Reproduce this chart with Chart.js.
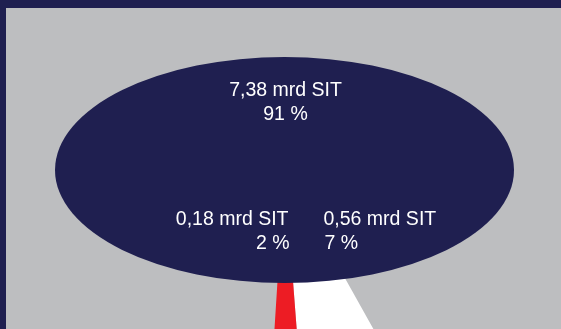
<!DOCTYPE html>
<html>
<head>
<meta charset="utf-8">
<script src="https://cdn.jsdelivr.net/npm/chart.js@4.4.1/dist/chart.umd.min.js"></script>
<style>
    html, body { margin: 0; padding: 0; background: #1f1f50; }
    .frame {
        position: absolute;
        left: 6px; top: 8px;
        width: 555px; height: 321px;
        background: #bdbec0;
        overflow: hidden;
    }
    canvas { display: block; }
</style>
</head>
<body>
<div class="frame"><canvas id="pieChart" width="555" height="321"></canvas></div>
<script>
// =======================
//  DATA
// =======================
const kategori = ["Ostalo", "Del B", "Del A"];
const nilaiMrd = [7.38, 0.56, 0.18];         // mrd SIT
const labelMrd = ["7,38 mrd SIT", "0,56 mrd SIT", "0,18 mrd SIT"];
const labelPersen = ["91 %", "7 %", "2 %"];

const NAVY = "#1f1f50";
const GRAY = "#bdbec0";

// ellipse panel with the value labels, drawn over the pie centre
const panelLabel = {
    id: "panelLabel",
    afterDatasetsDraw(chart) {
        const arc = chart.getDatasetMeta(0).data[0];
        const cx = arc.x, cy = arc.y;
        const ctx = chart.ctx;

        ctx.save();
        ctx.fillStyle = NAVY;
        ctx.beginPath();
        ctx.ellipse(cx, cy, 229.5, 113, 0, 0, Math.PI * 2);
        ctx.fill();

        ctx.fillStyle = "#fff";
        ctx.font = "19.5px 'Liberation Sans', Arial, sans-serif";
        ctx.textBaseline = "alphabetic";

        // top label (largest share)
        ctx.textAlign = "center";
        ctx.fillText(labelMrd[0], cx + 1, cy - 74);
        ctx.fillText(labelPersen[0], cx + 1, cy - 50);

        // small shares, left one right-aligned, right one left-aligned
        ctx.textAlign = "right";
        ctx.fillText(labelMrd[2], cx + 4, cy + 55);
        ctx.fillText(labelPersen[2], cx + 5, cy + 79);

        ctx.textAlign = "left";
        ctx.fillText(labelMrd[1], cx + 39, cy + 55);
        ctx.fillText(labelPersen[1], cx + 40, cy + 79);
        ctx.restore();
    }
};

const pieChart = new Chart(document.getElementById("pieChart"), {
    type: "pie",
    data: {
        labels: kategori,
        datasets: [{
            data: nilaiMrd,
            backgroundColor: [GRAY, "#ffffff", "#ed1c24"],
            borderWidth: 0
        }]
    },
    options: {
        responsive: false,
        animation: false,
        rotation: 183.6,
        radius: 600,
        layout: { padding: { left: 2, top: 3 } },
        plugins: {
            legend: { display: false },
            tooltip: { enabled: false }
        }
    },
    plugins: [panelLabel]
});
</script>
</body>
</html>
